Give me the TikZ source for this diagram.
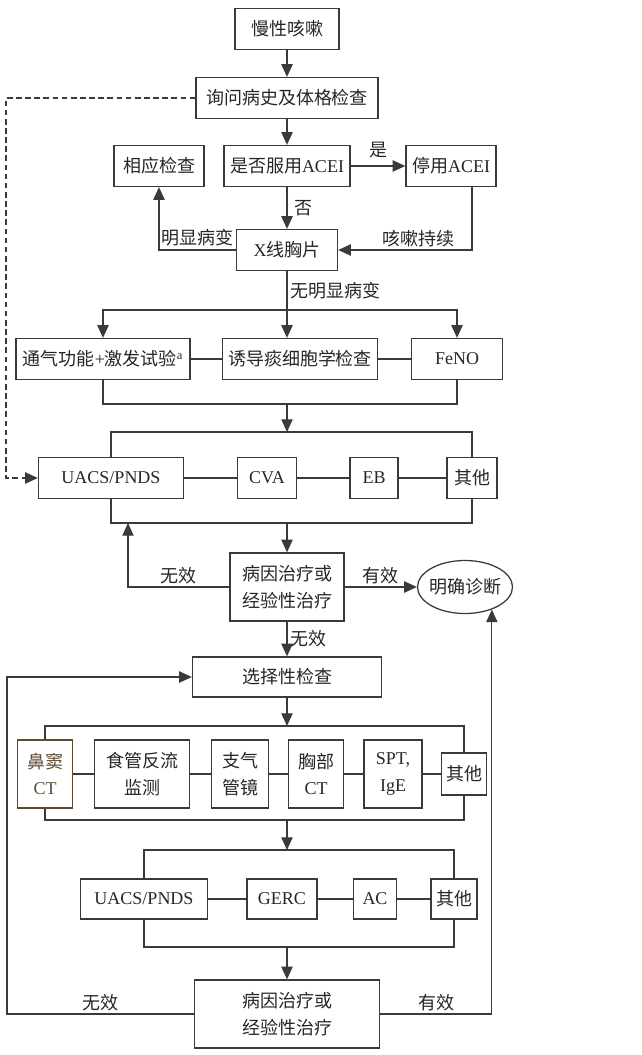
\documentclass[tikz,border=0pt]{standalone}
\usepackage{fontspec}
\setmainfont{Liberation Serif}
\newfontfamily\cjk{Noto Sans CJK SC}
\usepackage{tikz}
\usetikzlibrary{positioning, arrows.meta, shapes.geometric}
\definecolor{linegray}{HTML}{3A3A3A}
\definecolor{sinusbrown}{HTML}{5C4A32}
\newcommand{\zh}[1]{{\cjk #1}}

\begin{document}
\begin{tikzpicture}[x=0.025cm, y=-0.025cm, >={Triangle[length=9pt, width=8pt]}, % one unit = one pixel of the page
    every node/.style={font=\fontsize{12.8}{19}\selectfont, text=black!85},
    box/.style={draw=linegray, line width=0.9pt, inner sep=1pt, minimum height=1.025cm, align=center},
    tallbox/.style={box, minimum height=1.7cm},
    line/.style={draw=linegray, line width=0.9pt},
    arr/.style={line, ->},
    lbl/.style={inner sep=2pt}]

    \useasboundingbox (0,0) rectangle (641,1055);

    % 1. History and ACEI check
    \node[box, minimum width=2.6cm] (cough) at (287,29) {\zh{慢性咳嗽}};
    \node[box, minimum width=4.55cm] (history) at (287,98) {\zh{询问病史及体格检查}};
    \node[box, minimum width=3.15cm] (acei) at (287,166) {\zh{是否服用}ACEI};
    \node[box, minimum width=2.25cm] (check) at (159,166) {\zh{相应检查}};
    \node[box, minimum width=2.25cm] (stop) at (451,166) {\zh{停用}ACEI};
    \node[box, minimum width=2.525cm] (xray) at (287,250) {X\zh{线胸片}};

    \draw[arr] (cough) -- (history);
    \draw[arr] (history) -- (acei);
    \draw[arr] (acei) -- (stop) node[lbl, midway, above, yshift=3pt] {\zh{是}};
    \draw[arr] (acei) -- (xray) node[lbl, midway, right, xshift=3pt] {\zh{否}};
    \draw[arr] (xray.west) -| (check.south) node[lbl, pos=0.25, above] {\zh{明显病变}};
    \draw[arr] ([xshift=0.525cm]stop.south) |- (xray.east) node[lbl, pos=0.7, above] {\zh{咳嗽持续}};

    % 2. First line tests
    \node[box, minimum width=4.35cm] (ventil) at (103,359) {\zh{通气功能}+\zh{激发试验}\textsuperscript{a}};
    \node[box, minimum width=3.875cm] (induced) at (300,359) {\zh{诱导痰细胞学检查}};
    \node[box, minimum width=2.275cm] (feno) at (457,359) {FeNO};
    \coordinate (fork1) at (287,310);
    \coordinate (bot1) at (287,404);

    \draw[line] (xray) -- (fork1) node[lbl, midway, right] {\zh{无明显病变}};
    \draw[arr] (fork1) -| (ventil.north);
    \draw[arr] (fork1) -- (fork1 |- induced.north);
    \draw[arr] (fork1) -| (feno.north);
    \draw[line] (ventil) -- (induced) -- (feno);
    \draw[line] (ventil.south) |- (bot1) -| (feno.south);

    % 3. Common causes
    \node[box, minimum width=3.625cm] (uacsA) at (111,478) {UACS/PNDS};
    \node[box, minimum width=1.475cm] (cva) at (267,478) {CVA};
    \node[box, minimum width=1.2cm] (eb) at (374,478) {EB};
    \node[box, minimum width=1.25cm] (otherA) at (472,478) {\zh{其他}};
    \coordinate (top2) at (287,432);
    \coordinate (bot2) at (287,523);
    \coordinate (back2) at (128,523);
    \coordinate (dashrail) at (6,478);

    \draw[arr] (bot1) -- (top2);
    \draw[line] (uacsA.north) |- (top2) -| (otherA.north);
    \draw[line] (uacsA) -- (cva) -- (eb) -- (otherA);
    \draw[line] (uacsA.south) |- (bot2) -| (otherA.south);
    \draw[line, dashed, dash pattern=on 4pt off 2.5pt, ->] (history.west) -| (dashrail) -- (uacsA.west);

    % 4. First treatment
    \node[tallbox, minimum width=2.85cm] (treatA) at (287,587) {\zh{病因治疗或}\\\zh{经验性治疗}};
    \node[ellipse, draw=linegray, line width=0.9pt, minimum width=2.375cm, minimum height=1.325cm,
          inner xsep=-3pt, inner ysep=0pt] (diag) at (465,587) {\zh{明确诊断}};

    \draw[arr] (bot2) -- (treatA);
    \draw[arr] (treatA.west) -| (back2) node[lbl, pos=0.25, above] {\zh{无效}};
    \draw[arr] (treatA) -- (diag) node[lbl, midway, above] {\zh{有效}};

    % 5. Selective tests
    \node[box, minimum width=4.725cm, minimum height=1cm] (select) at (287,677) {\zh{选择性检查}};
    \node[tallbox, draw=sinusbrown, text=sinusbrown, minimum width=1.375cm] (sinus) at (45,774) {\zh{鼻窦}\\CT};
    \node[tallbox, minimum width=2.375cm] (reflux) at (142,774) {\zh{食管反流}\\\zh{监测}};
    \node[tallbox, minimum width=1.425cm] (broncho) at (240,774) {\zh{支气}\\\zh{管镜}};
    \node[tallbox, minimum width=1.375cm] (chestct) at (316,774) {\zh{胸部}\\CT};
    \node[tallbox, minimum width=1.45cm] (spt) at (393,774) {SPT,\\IgE};
    \node[box, minimum width=1.125cm, minimum height=1.05cm] (otherB) at (464,774) {\zh{其他}};
    \coordinate (top3) at (287,726);
    \coordinate (bot3) at (287,820);

    \draw[arr] (treatA) -- (select) node[lbl, midway, right] {\zh{无效}};
    \draw[arr] (select) -- (top3);
    \draw[line] (sinus.north) |- (top3) -| (otherB.north);
    \draw[line] (sinus) -- (reflux) -- (broncho) -- (chestct) -- (spt) -- (otherB);
    \draw[line] (sinus.south) |- (bot3) -| (otherB.south);

    % 6. Less common causes
    \node[box, minimum width=3.175cm, minimum height=1cm] (uacsB) at (144,899) {UACS/PNDS};
    \node[box, minimum width=1.75cm, minimum height=1cm] (gerc) at (282,899) {GERC};
    \node[box, minimum width=1.075cm, minimum height=1cm] (ac) at (375,899) {AC};
    \node[box, minimum width=1.15cm, minimum height=1cm] (otherC) at (454,899) {\zh{其他}};
    \coordinate (top4) at (287,850);
    \coordinate (bot4) at (287,947);

    \draw[arr] (bot3) -- (top4);
    \draw[line] (uacsB.north) |- (top4) -| (otherC.north);
    \draw[line] (uacsB) -- (gerc) -- (ac) -- (otherC);
    \draw[line] (uacsB.south) |- (bot4) -| (otherC.south);

    % 7. Second treatment, loops back
    \node[tallbox, minimum width=4.625cm] (treatB) at (287,1014) {\zh{病因治疗或}\\\zh{经验性治疗}};
    \coordinate (leftrail) at (7,677);

    \draw[arr] (bot4) -- (treatB);
    \draw[arr] (treatB.west) -| (leftrail) node[lbl, pos=0.25, above] {\zh{无效}} -- (select.west);
    \draw[arr] (treatB.east) -| (diag.-40) node[lbl, pos=0.25, above] {\zh{有效}};
\end{tikzpicture}
\end{document}
